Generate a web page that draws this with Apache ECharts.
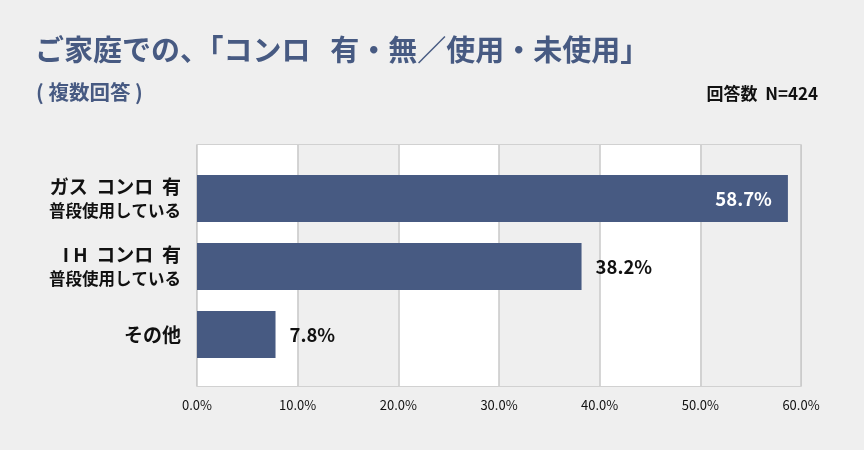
<!DOCTYPE html>
<html>
<head>
<meta charset="utf-8">
<script src="https://cdn.jsdelivr.net/npm/echarts@6/dist/echarts.min.js"></script>
<style>
    html, body { margin: 0; padding: 0; background: #efefef; }
    #chart { width: 864px; height: 450px; }
</style>
</head>
<body>
<div id="chart"></div>
<script>
    // categories (top to bottom) and values in %
    var categories = ['ガス  コンロ  有|普段使用している', 'I H  コンロ  有|普段使用している', 'その他'];
    var values = [58.7, 38.2, 7.8];
    var xTicks = [0, 10, 20, 30, 40, 50, 60];

    var font = '"Noto Sans CJK JP", "Noto Sans", sans-serif';
    var barColor = '#475a82';

    var chart = echarts.init(document.getElementById('chart'));
    var option = {
        backgroundColor: '#efefef',
        textStyle: { fontFamily: font },
        title: [{
            text: 'ご家庭での、「コンロ   有・無／使用・未使用」',
            left: 30, top: 30,
            textStyle: { color: barColor, fontSize: 29, fontWeight: 'bold', fontFamily: font }
        }, {
            text: '( 複数回答 )',
            left: 31, top: 77,
            textStyle: { color: barColor, fontSize: 20.5, fontWeight: 'bold', fontFamily: font }
        }, {
            text: '回答数  N=424',
            right: 41, top: 80,
            textStyle: { color: '#111', fontSize: 17, fontWeight: 'bold', fontFamily: font }
        }],
        grid: [
            // frame + split areas
            { left: 197, right: 63, top: 145, height: 241, show: true, borderColor: '#c8c8c8', borderWidth: 1.5, backgroundColor: 'transparent' },
            // bars, inset a little from the frame
            { left: 197, right: 63, top: 164.5, height: 204 }
        ],
        xAxis: [{
            gridIndex: 0, type: 'value', min: xTicks[0], max: xTicks[xTicks.length - 1], interval: 10,
            axisLine: { show: false }, axisTick: { show: false },
            axisLabel: {
                color: '#111', fontSize: 13, margin: 13,
                formatter: function (v) { return v.toFixed(1) + '%'; }
            },
            splitLine: { show: true, lineStyle: { color: '#c8c8c8', width: 1.5 } },
            splitArea: { show: true, areaStyle: { color: ['#ffffff', '#efefef'] } }
        }, {
            gridIndex: 1, type: 'value', min: 0, max: 60, show: false
        }],
        yAxis: [{
            gridIndex: 0, type: 'value', show: false
        }, {
            gridIndex: 1, type: 'category', inverse: true, data: categories,
            axisLine: { show: false }, axisTick: { show: false },
            axisLabel: {
                margin: 16, align: 'right',
                formatter: function (v) {
                    var p = v.split('|');
                    if (p.length > 1) return '{a|' + p[0] + '}\n{b|' + p[1] + '}';
                    return '{a|' + p[0] + '}';
                },
                rich: {
                    a: { fontSize: 19, fontWeight: 'bold', color: '#111', fontFamily: font, lineHeight: 25, align: 'right' },
                    b: { fontSize: 16.5, fontWeight: 'bold', color: '#111', fontFamily: font, lineHeight: 23, align: 'right' }
                }
            }
        }],
        series: [{
            type: 'bar',
            xAxisIndex: 1, yAxisIndex: 1,
            data: values.map(function (v) {
                var inside = v > 50;
                return {
                    value: v,
                    label: inside
                        ? { position: 'insideRight', color: '#fff', distance: 16 }
                        : { position: 'right', color: '#111', distance: 14 }
                };
            }),
            barWidth: 47,
            itemStyle: { color: barColor },
            label: {
                show: true, fontSize: 18.5, fontWeight: 'bold', fontFamily: font,
                formatter: function (p) { return p.value.toFixed(1) + '%'; }
            },
            silent: true
        }]
    };
    chart.setOption(option);
</script>
</body>
</html>
